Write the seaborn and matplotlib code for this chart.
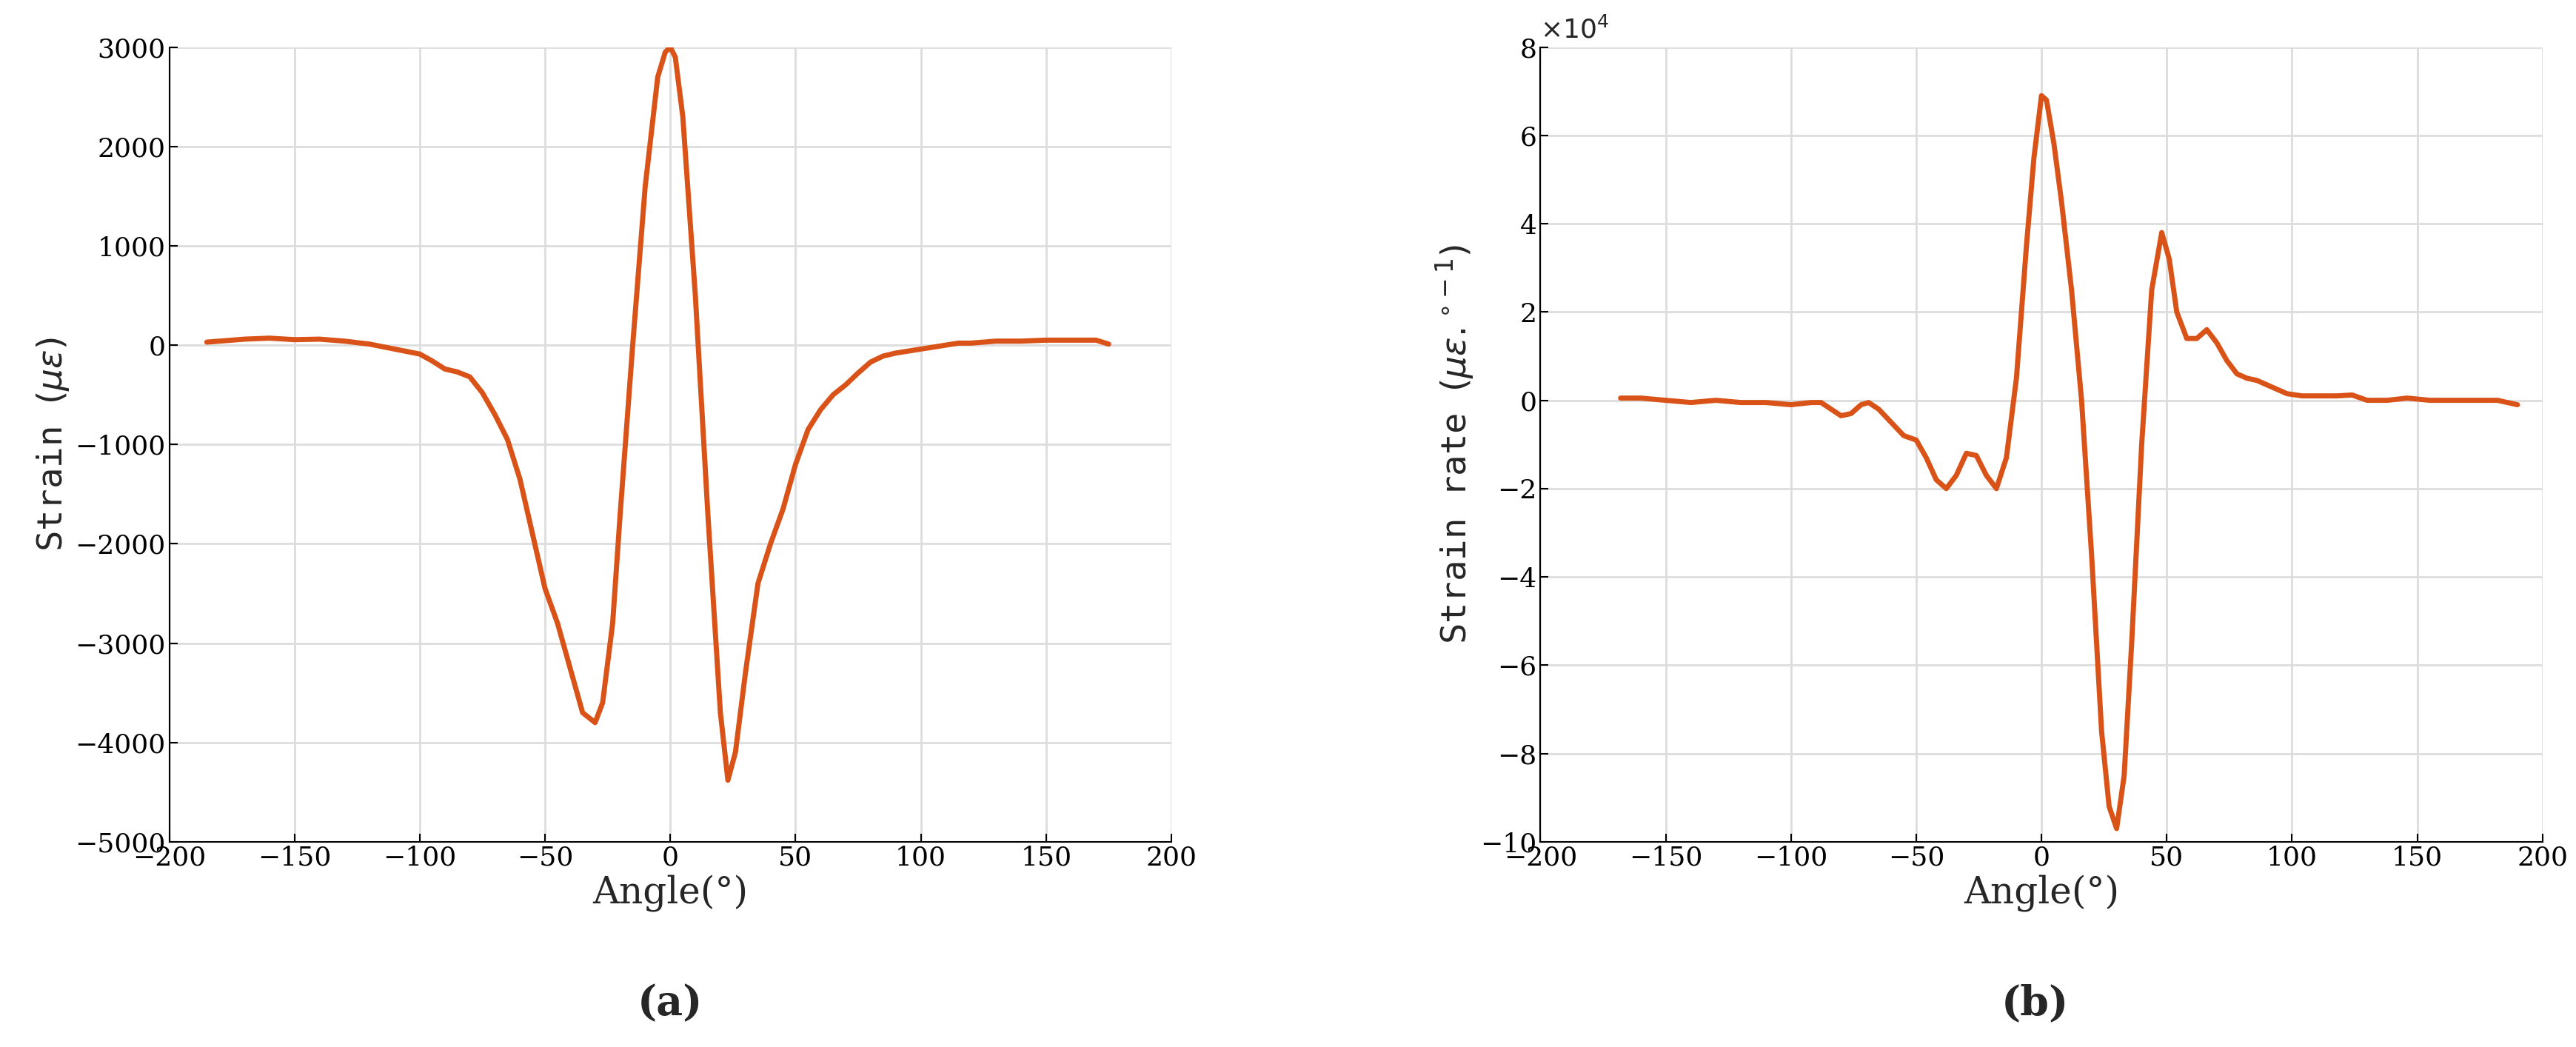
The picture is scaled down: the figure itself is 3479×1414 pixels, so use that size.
import numpy as np
import matplotlib
matplotlib.use("Agg")
import matplotlib.pyplot as plt
import seaborn as sns

angle_a = [-185,-170,-160,-150,-140,-130,-120,-110,-100,-95,-90,-85,-80,-75,-70,-65,-60,-55,-50,-45,-40,-35,-30,-27,-23,-20,-15,-10,-5,-2,0,2,5,10,15,20,23,26,
           30,35,40,45,50,55,60,65,70,75,80,85,90,100,110,115,120,130,140,150,160,170,175]
strain_a = [30,60,70,55,60,40,10,-40,-90,-160,-240,-270,-320,-480,-700,-950,-1350,-1900,-2450,-2800,-3250,-3700,-3800,-3600,-2800,-1700,0,1600,2700,2950,3000,2900,2300,500,-1700,-3700,-4380,-4100,
            -3300,-2400,-2000,-1650,-1200,-850,-650,-500,-400,-280,-170,-110,-80,-40,0,20,20,40,40,50,50,50,10]

angle_b = [-168,-160,-150,-140,-130,-120,-110,-100,-92,-88,-84,-80,-76,-72,-69,-65,-60,-55,-50,-46,-42,-38,-34,-30,-26,-22,-18,-14,-10,-6,-3,0,2,5,8,12,16,20,24,27,30,33,36,40,44,48,51,54,58,62,66,70,74,78,82,86,92,98,104,110,118,124,130,138,146,155,165,175,182,190]
rate_b = [0.05,0.05,0.0,-0.05,0.0,-0.05,-0.05,-0.1,-0.05,-0.05,-0.2,-0.35,-0.3,-0.1,-0.05,-0.2,-0.5,-0.8,-0.9,-1.3,-1.8,-2.0,-1.7,-1.2,-1.25,-1.7,-2.0,-1.3,0.5,3.5,5.5,6.9,6.8,5.8,4.5,2.5,0.0,-3.5,-7.5,-9.2,-9.7,-8.5,-5.5,-1.0,2.5,3.8,3.2,2.0,1.4,1.4,1.6,1.3,0.9,0.6,0.5,0.45,0.3,0.15,0.1,0.1,0.1,0.12,0.0,0.0,0.05,0.0,0.0,0.0,0.0,-0.1]

sns.set_theme(style="whitegrid")
plt.rcParams['font.family'] = ['DejaVu Serif']
fig = plt.figure(figsize=(34.79, 14.14), dpi=100)
ax1 = fig.add_axes([0.0657, 0.196, 0.389, 0.759])
ax2 = fig.add_axes([0.598, 0.196, 0.389, 0.759])
col = '#D95319'
sns.lineplot(x=angle_a, y=strain_a, ax=ax1, color=col, lw=5)
sns.lineplot(x=angle_b, y=rate_b, ax=ax2, color=col, lw=5)
for ax in (ax1, ax2):
    ax.set_xlim(-200, 200)
    ax.set_xticks(range(-200, 201, 50))
    ax.grid(True, color='#dddddd', lw=2)
    for s in ax.spines.values():
        s.set_visible(False)
    ax.spines['left'].set_visible(True); ax.spines['bottom'].set_visible(True)
    ax.spines['left'].set_color('black'); ax.spines['bottom'].set_color('black')
    ax.spines['left'].set_linewidth(1.5); ax.spines['bottom'].set_linewidth(1.5)
    ax.tick_params(labelsize=26, length=8, width=1.5, direction='in', colors='black', left=True, bottom=True)
    ax.set_facecolor('white')
    ax.set_xlabel('Angle(°)', fontsize=36)
ax1.set_ylim(-5000, 3000)
ax1.set_yticks(range(-5000, 3001, 1000))
ax1.set_ylabel(r'Strain $(\mu\epsilon)$', fontsize=34, family='monospace')
ax2.set_ylim(-10, 8)
ax2.set_yticks(range(-10, 9, 2))
ax2.set_ylabel(r'Strain rate $(\mu\epsilon.^{\circ-1})$', fontsize=34, family='monospace')
ax2.text(0.0, 1.005, r'$\times10^4$', transform=ax2.transAxes, fontsize=26, va='bottom')
fig.text(0.26, 0.03, '(a)', fontsize=40, ha='center', weight='bold')
fig.text(0.79, 0.03, '(b)', fontsize=40, ha='center', weight='bold')
fig.savefig('out.png', dpi=100, facecolor='white')
